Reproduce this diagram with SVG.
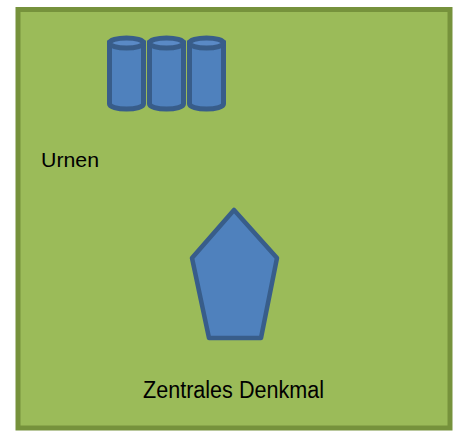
<svg xmlns="http://www.w3.org/2000/svg" width="459" height="435" viewBox="0 0 459 435">
<style>
.urn{fill:#4f81bd;stroke:#385d8a;stroke-width:5}
.top{fill:#5a8ac6;stroke:#385d8a;stroke-width:5}
.lbl{font-family:"Liberation Sans",Arial,sans-serif;fill:#000}
</style>
<rect x="0" y="0" width="459" height="435" fill="#ffffff"/>
<g id="area">
<rect x="18" y="9.5" width="432" height="418.5" fill="#9bbb59" stroke="#76923c" stroke-width="5"/>
</g>
<g id="urnen">
<g id="urn1">
<path class="urn" d="M109.5,43 V104 A17,5 0 0 0 143.5,104 V43 Z"/>
<ellipse class="top" cx="126.5" cy="43" rx="17" ry="5"/>
</g>
<g id="urn2">
<path class="urn" d="M149.5,43 V104 A17,5 0 0 0 183.5,104 V43 Z"/>
<ellipse class="top" cx="166.5" cy="43" rx="17" ry="5"/>
</g>
<g id="urn3">
<path class="urn" d="M189.5,43 V104 A17,5 0 0 0 223.5,104 V43 Z"/>
<ellipse class="top" cx="206.5" cy="43" rx="17" ry="5"/>
</g>
<text class="lbl" x="41" y="167" font-size="21" textLength="58" lengthAdjust="spacingAndGlyphs">Urnen</text>
</g>
<g id="denkmal">
<polygon points="234,210 277,258 261,338 209,338 192,258" fill="#4f81bd" stroke="#385d8a" stroke-width="4.5" stroke-linejoin="round"/>
<text class="lbl" x="143" y="398" font-size="23" textLength="181" lengthAdjust="spacingAndGlyphs">Zentrales Denkmal</text>
</g>
</svg>
